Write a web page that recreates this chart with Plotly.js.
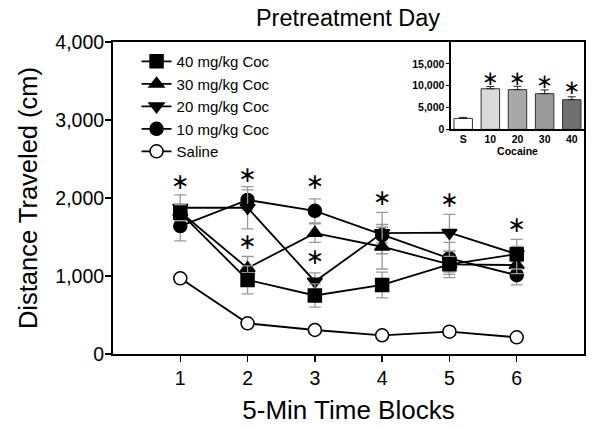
<!DOCTYPE html>
<html>
<head>
<meta charset="utf-8">
<script src="https://cdn.plot.ly/plotly-3.0.1.min.js"></script>
<style>html,body{margin:0;padding:0;background:#fff;}#chart{width:600px;height:429px;}</style>
</head>
<body>
<div id="chart"></div>
<script>
// ---- data ----
var blocks = [1, 2, 3, 4, 5, 6];
var coc40 = [1810, 950, 750, 885, 1150, 1280];
var coc40Err = [100, 180, 150, 165, 170, 190];
var coc30 = [1820, 1100, 1550, 1375, 1150, 1140];
var coc30Err = [100, 150, 120, 285, 100, 110];
var coc20 = [1875, 1875, 930, 1550, 1555, 1280];
var coc20Err = [165, 270, 110, 265, 235, 100];
var coc10 = [1640, 1975, 1835, 1525, 1225, 1010];
var coc10Err = [190, 130, 155, 100, 205, 125];
var saline = [970, 393, 308, 240, 286, 214];
var salineErr = [50, 40, 35, 35, 35, 30];
var starX = [1, 2, 2, 3, 3, 4, 5, 6];
var starY = [2190, 2270, 1420, 2180, 1220, 1975, 1950, 1630];

var insetCats = ['S', '10', '20', '30', '40'];
var insetVals = [2500, 9300, 9100, 8180, 6800];
var insetErr = [250, 500, 750, 850, 650];
var insetColors = ['#ffffff', '#dadada', '#a8a8a8', '#9a9a9a', '#707070'];
var insetStarCats = ['10', '20', '30', '40'];
var insetStarY = [11200, 11350, 10700, 9350];

var yTicks = [0, 1000, 2000, 3000, 4000];
var yTickText = ['0', '1,000', '2,000', '3,000', '4,000'];
var insetYTicks = [0, 5000, 10000, 15000];
var insetYText = ['0', '5,000', '10,000', '15,000'];

// ---- traces ----
function series(name, y, err, symbol, fill, rank) {
  return {
    type: 'scatter', mode: 'lines+markers', name: name, x: blocks, y: y,
    line: {color: '#000', width: 1.8},
    marker: {symbol: symbol, size: 13, color: fill, line: {color: '#000', width: 1.5}},
    error_y: {type: 'data', array: err, visible: true, color: '#999', thickness: 1.3, width: 6},
    legendrank: rank, cliponaxis: false
  };
}
var traces = [
  series('Saline', saline, salineErr, 'circle', '#fff', 5),
  series('10 mg/kg Coc', coc10, coc10Err, 'circle', '#000', 4),
  series('20 mg/kg Coc', coc20, coc20Err, 'triangle-down', '#000', 3),
  series('30 mg/kg Coc', coc30, coc30Err, 'triangle-up', '#000', 2),
  series('40 mg/kg Coc', coc40, coc40Err, 'square', '#000', 1),
  {type: 'scatter', mode: 'text', x: starX, y: starY, text: starX.map(function(){return '∗';}),
   textfont: {family: 'DejaVu Sans', size: 22, color: '#000'}, showlegend: false, hoverinfo: 'skip', cliponaxis: false},
  {type: 'bar', x: insetCats, y: insetVals, xaxis: 'x2', yaxis: 'y2', width: 0.68,
   marker: {color: insetColors, line: {color: '#333', width: 1}},
   error_y: {type: 'data', array: insetErr, symmetric: false, arrayminus: [0,0,0,0,0], visible: true, color: '#222', thickness: 1, width: 4},
   showlegend: false},
  {type: 'scatter', mode: 'text', x: insetStarCats, y: insetStarY, xaxis: 'x2', yaxis: 'y2',
   text: insetStarCats.map(function(){return '∗';}),
   textfont: {family: 'DejaVu Sans', size: 20, color: '#000'}, showlegend: false, hoverinfo: 'skip', cliponaxis: false}
];

var layout = {
  width: 600, height: 429,
  margin: {l: 113, r: 16, t: 42, b: 75},
  paper_bgcolor: '#fff', plot_bgcolor: '#fff',
  font: {family: 'Liberation Sans, Arial, sans-serif', color: '#000'},
  title: {text: 'Pretreatment Day', font: {size: 23.5}, x: 0.58, xanchor: 'center', y: 0.958, yanchor: 'middle'},
  showlegend: true,
  legend: {x: 0.05, y: 0.99, xanchor: 'left', yanchor: 'top', font: {size: 15}, bgcolor: 'rgba(0,0,0,0)', tracegroupgap: 0},
  xaxis: {range: [0, 7], tickvals: blocks, ticks: 'outside', ticklen: 6, tickwidth: 1.5, tickcolor: '#000',
          showline: true, linecolor: '#000', linewidth: 2, mirror: true, showgrid: false, zeroline: false,
          tickfont: {size: 19.5}, title: {text: '5-Min Time Blocks', font: {size: 26}, standoff: 12}},
  yaxis: {range: [0, 4000], tickvals: yTicks, ticktext: yTickText, ticks: 'outside', ticklen: 6, tickwidth: 1.5, tickcolor: '#000',
          showline: true, linecolor: '#000', linewidth: 2, mirror: true, showgrid: false, zeroline: false,
          ticklabelstandoff: -3,
          tickfont: {size: 19.5}, title: {text: 'Distance Traveled (cm)', font: {size: 25.5}, standoff: 10}},
  xaxis2: {domain: [0.7176, 1], anchor: 'y2', type: 'category', range: [-0.45, 4.45], ticks: '', showline: true,
           linecolor: '#000', linewidth: 1.5, showgrid: false, zeroline: false,
           tickfont: {size: 10.5, family: 'Liberation Sans, Arial', weight: 'bold'},
           title: {text: '<b>Cocaine</b>', font: {size: 10.5}, standoff: 2}},
  yaxis2: {domain: [0.72, 1], anchor: 'x2', range: [0, 20000], tickvals: insetYTicks, ticktext: insetYText,
           ticks: 'outside', ticklen: 3, tickwidth: 1, tickcolor: '#000', showline: true, linecolor: '#000', linewidth: 1.5,
           showgrid: false, zeroline: false, tickfont: {size: 10.5, weight: 'bold'}},
  shapes: [
    {type: 'rect', xref: 'x2 domain', yref: 'y2 domain', x0: 0, x1: 1, y0: 0, y1: 1, fillcolor: '#fff', line: {width: 0}, layer: 'below'}
  ]
};

Plotly.newPlot('chart', traces, layout, {displayModeBar: false, staticPlot: true});
</script>
</body>
</html>
